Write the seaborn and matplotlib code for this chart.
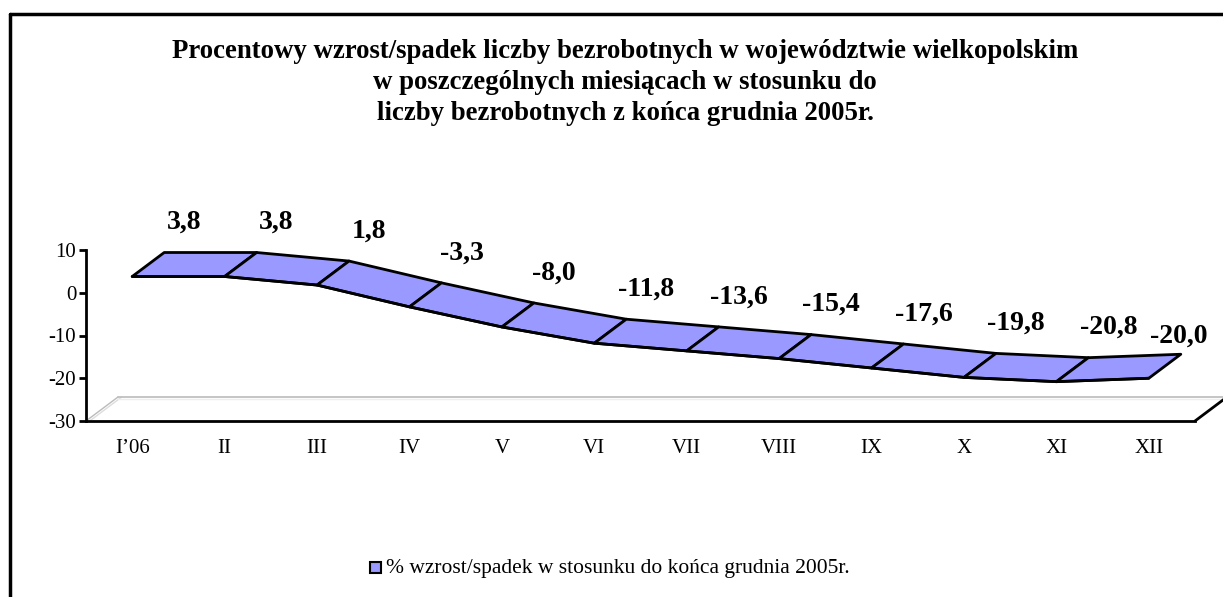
import matplotlib
matplotlib.use("Agg")
import matplotlib.pyplot as plt
from matplotlib.lines import Line2D
from matplotlib.patches import Rectangle, Polygon
import seaborn as sns
import pandas as pd

# ---- data ----
categories = ["I\u201906", "II", "III", "IV", "V", "VI", "VII", "VIII", "IX", "X", "XI", "XII"]
values = [3.8, 3.8, 1.8, -3.3, -8.0, -11.8, -13.6, -15.4, -17.6, -19.8, -20.8, -20.0]
value_labels = ["3,8", "3,8", "1,8", "-3,3", "-8,0", "-11,8", "-13,6", "-15,4", "-17,6", "-19,8", "-20,8", "-20,0"]
y_ticks = [10, 0, -10, -20, -30]
series_name = "% wzrost/spadek w stosunku do ko\u0144ca grudnia 2005r."
title_lines = ["Procentowy wzrost/spadek liczby bezrobotnych w województwie wielkopolskim",
               "w poszczególnych miesiącach w stosunku do",
               "liczby bezrobotnych z końca grudnia 2005r."]

sns.set_theme(style="white")
plt.rcParams['font.family'] = ['Liberation Serif', 'DejaVu Serif']
plt.rcParams['text.color'] = 'black'
plt.rcParams['xtick.color'] = 'black'
plt.rcParams['ytick.color'] = 'black'

W, H = 1223, 597
fig = plt.figure(figsize=(W / 100, H / 100), dpi=100)
fig.patch.set_facecolor("white")

# axes in pixel geometry
x0, x1 = 86, 1195
y_top, y_bot = 250, 421
ax = fig.add_axes([x0 / W, (H - y_bot) / H, (x1 - x0) / W, (y_bot - y_top) / H])
ax.set_xlim(-0.5, len(categories) - 0.5)
ax.set_ylim(-30, 10)
ax.patch.set_alpha(0)

px_per_cat = (x1 - x0) / len(categories)
px_per_unit = (y_bot - y_top) / 40.0
DX = 32 / px_per_cat      # depth offset in data units
DY = 24 / px_per_unit

df = pd.DataFrame({"pos": range(len(categories)), "val": values})

fill = "#9999FF"
# ribbon segments
for i in range(len(values) - 1):
    poly = Polygon([(i, values[i]), (i + 1, values[i + 1]),
                    (i + 1 + DX, values[i + 1] + DY), (i + DX, values[i] + DY)],
                   closed=True, facecolor=fill, edgecolor="black", linewidth=2,
                   joinstyle="round", zorder=3)
    ax.add_patch(poly)
sns.lineplot(data=df, x="pos", y="val", ax=ax, color="black", linewidth=2, zorder=4,
             legend=False)

# floor
floor_y = -30
n = len(categories)
ax.plot([-0.5, -0.5 + DX], [floor_y, floor_y + DY], color="#bbbbbb", lw=1, clip_on=False, zorder=1)
ax.plot([-0.5 + 0.04, -0.5 + DX + 0.04], [floor_y, floor_y + DY], color="#dddddd", lw=1, clip_on=False, zorder=1)
ax.plot([-0.5 + DX, n - 0.5 + DX], [floor_y + DY, floor_y + DY], color="#bbbbbb", lw=1.2, clip_on=False, zorder=1)
ax.plot([-0.5 + DX, n - 0.5 + DX], [floor_y + DY - 0.5, floor_y + DY - 0.5], color="#eeeeee", lw=1, clip_on=False, zorder=1)
ax.plot([n - 0.5, n - 0.5 + DX], [floor_y, floor_y + DY], color="black", lw=2, clip_on=False, zorder=2)

# data labels (the last one sits right above the ribbon end so it stays inside)
for i, (v, lab) in enumerate(zip(values, value_labels)):
    off = (20, 30) if i < n - 1 else (-2, 18)
    ax.annotate(lab, xy=(i + DX, v + DY), xytext=off, textcoords="offset pixels",
                ha="center", va="center", fontsize=20, fontweight="bold", color="black")

# spines & ticks
for s in ["top", "right"]:
    ax.spines[s].set_visible(False)
ax.spines["left"].set_color("black")
ax.spines["left"].set_linewidth(2)
ax.spines["bottom"].set_color("black")
ax.spines["bottom"].set_linewidth(2)
ax.set_yticks(y_ticks)
ax.set_yticklabels([str(t) for t in y_ticks], fontsize=15)
ax.set_xticks(range(n))
ax.set_xticklabels(categories, fontsize=15)
ax.tick_params(axis="y", direction="out", length=5, width=2, color="black", pad=2, left=True)
ax.tick_params(axis="x", length=0, pad=13)
ax.set_xlabel("")
ax.set_ylabel("")
ax.grid(False)

# title (baselines at ~58, 89, 120 px)
for k, line in enumerate(title_lines):
    fig.text(625 / W, 1 - (58 + 31 * k) / H, line, ha="center", va="baseline",
             fontsize=19.3, fontweight="bold")

# legend
sq = 11
fig.add_artist(Rectangle((370 / W, (H - 573) / H), sq / W, sq / H, transform=fig.transFigure,
                         facecolor=fill, edgecolor="black", linewidth=1.5))
fig.text(386 / W, 1 - 569 / H, series_name, ha="left", va="center", fontsize=15.5)

# chart border (top & left)
fig.add_artist(Line2D([10 / W, 1], [1 - 14 / H, 1 - 14 / H], transform=fig.transFigure, color="black", lw=2.5))
fig.add_artist(Line2D([10 / W, 10 / W], [0, 1 - 14 / H], transform=fig.transFigure, color="black", lw=2.5))

fig.savefig("out.png", dpi=100, facecolor="white")
